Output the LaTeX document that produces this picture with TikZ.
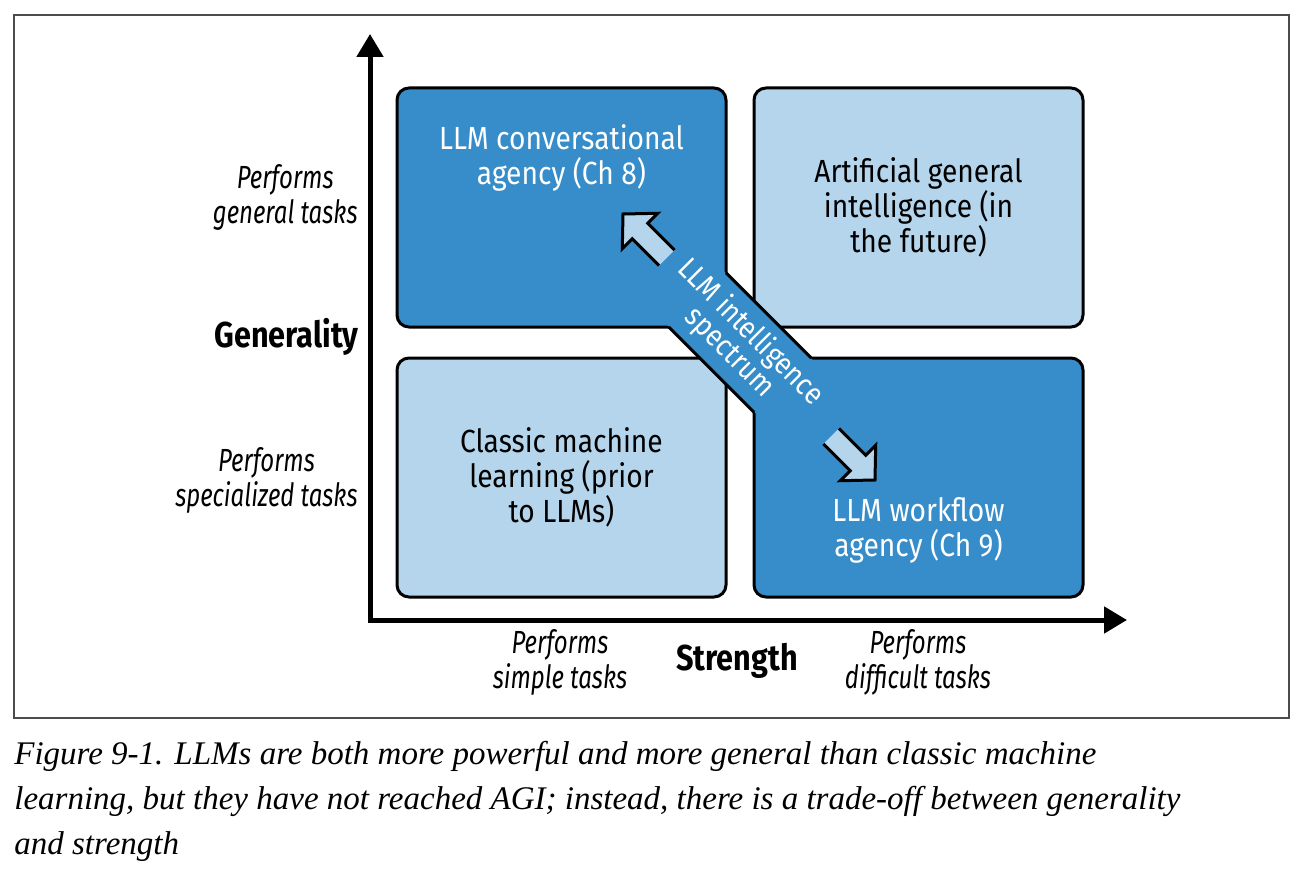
\documentclass[tikz,border=0pt]{standalone}
\usepackage{fontspec}
\newfontfamily\boxfont[FakeStretch=0.88]{Fira Sans}
\newfontfamily\notefont[FakeStretch=0.75]{Fira Sans}
\newfontfamily\axfont[FakeStretch=0.85]{Fira Sans}
\newfontfamily\capfont{Liberation Serif}
\usetikzlibrary{positioning, arrows.meta, calc}
\definecolor{quaddark}{HTML}{368DC9}
\definecolor{quadlight}{HTML}{B4D5EB}

\begin{document}
\begin{tikzpicture}[x=0.5pt, y=-0.5pt,
      quad/.style={draw, line width=1.5pt, rounded corners=6pt, minimum width=164.5pt, minimum height=119.5pt, inner sep=0pt, outer sep=0pt},
      dk/.style={quad, fill=quaddark},
      lt/.style={quad, fill=quadlight},
      txt/.style={align=center, inner sep=0pt, font=\boxfont\fontsize{16}{17.5}\selectfont},
      note/.style={inner sep=0pt, align=center, font=\notefont\itshape\fontsize{16}{17.5}\selectfont},
      axl/.style={inner sep=0pt, font=\axfont\bfseries\fontsize{18}{20}\selectfont},
      band/.style={fill=quaddark, text=white, minimum width=130pt, minimum height=39pt, inner sep=0pt, align=center, font=\boxfont\fontsize{15}{14.5}\selectfont},
      bandline/.style={line width=1.5pt},
      barr/.style={fill=quadlight, draw=black, line width=1.5pt},
      ax/.style={line width=2.5pt, {Triangle[length=11.5pt,width=13pt]}-{Triangle[length=11.5pt,width=13pt]}},
      captext/.style={align=left, inner sep=0pt, font=\capfont\itshape\fontsize{16.5}{22.5}\selectfont}]
      \useasboundingbox (0,0) rectangle (1302,872);
      \draw[black!70, line width=0.6pt] (14,15) rectangle (1289,718);
      % axes
      \coordinate (origin) at (370,620);
      \coordinate (ytop) at (370,34);
      \coordinate (xend) at (1127,620);
      \draw[ax] (ytop) -- (origin) -- (xend);
      % quadrants
      \node[dk] (conv) at (561.5,207.5) {};
      \node[lt, right=14pt of conv] (agi) {};
      \node[lt, below=15.5pt of conv] (classic) {};
      \node[dk, right=14pt of classic] (work) {};
      \node[txt, text=white] (convtxt) at ($(conv.north)+(0,70)$) {LLM conversational\\agency (Ch 8)};
      \node[txt] (agitxt) at (agi) {Artificial general\\intelligence (in\\the future)};
      \node[txt] (classictxt) at (classic) {Classic machine\\learning (prior\\to LLMs)};
      \node[txt, text=white] (worktxt) at ($(work.south)+(0,-67)$) {LLM workflow\\agency (Ch 9)};
      % spectrum band
      \node[band, rotate=-45] (spec) at ($(conv)!0.5!(work)$) {LLM intelligence\\spectrum};
      \draw[bandline] (intersection of spec.north west--spec.north east and conv.north east--conv.south east)
        -- (intersection of spec.north west--spec.north east and work.north west--work.north east);
      \draw[bandline] (intersection of spec.south west--spec.south east and conv.south west--conv.south east)
        -- (intersection of spec.south west--spec.south east and work.north west--work.south west);
      \begin{scope}[shift={(623,214)}, rotate=135]
        \filldraw[barr] (-62,11) -- (-24,11) -- (-24,25) -- (0,0) -- (-24,-25) -- (-24,-11) -- (-62,-11);
      \end{scope}
      \begin{scope}[shift={(875,480)}, rotate=-45]
        \filldraw[barr] (-62,11) -- (-24,11) -- (-24,25) -- (0,0) -- (-24,-25) -- (-24,-11) -- (-62,-11);
      \end{scope}
      % axis labels
      \node[note, anchor=east] (gentasks) at (358,197) {Performs\\general tasks};
      \node[axl, anchor=east] (genlbl) at (359,337) {Generality};
      \node[note, anchor=east] (spectasks) at (358,480) {Performs\\specialized tasks};
      \node[note] (simple) at (560,662) {Performs\\simple tasks};
      \node[axl] (strlbl) at (737,661) {Strength};
      \node[note] (difficult) at (918,662) {Performs\\difficult tasks};
      \node[captext, anchor=north west] (caption) at (14,741) {Figure 9-1. LLMs are both more powerful and more general than classic machine\\learning, but they have not reached AGI; instead, there is a trade-off between generality\\and strength};
    \end{tikzpicture}
\end{document}
